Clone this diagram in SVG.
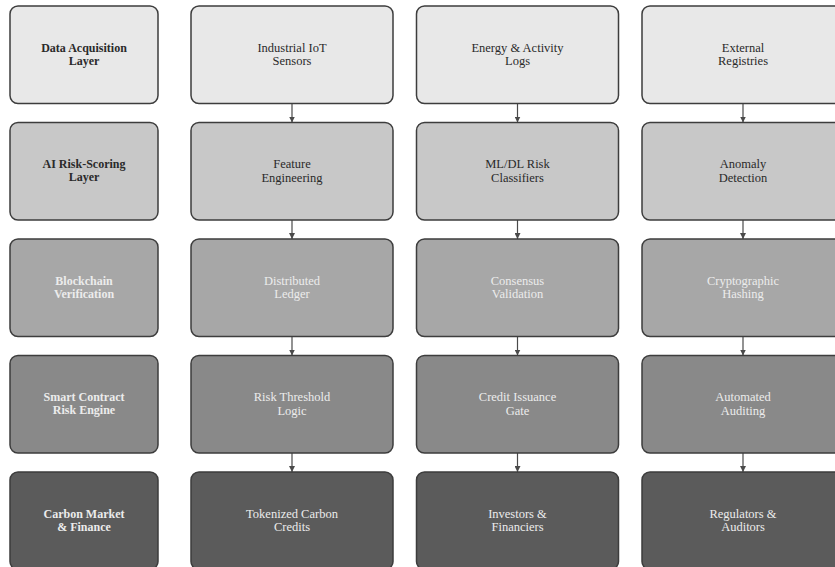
<svg xmlns="http://www.w3.org/2000/svg" width="835" height="567" viewBox="0 0 835 567">
<defs>
<style>
.box{stroke:#3d3d3d;stroke-width:1.5}
.r1{fill:#e8e8e8}.r2{fill:#c8c8c8}.r3{fill:#a7a7a7}.r4{fill:#898989}.r5{fill:#5b5b5b}
text{font-family:"Liberation Serif","Times New Roman",serif;font-size:12.5px;text-anchor:middle}
.dk{fill:#2a2a2a}.lt{fill:#ececec}
.b{font-weight:bold;font-size:12px}
.conn line{stroke:#4a4a4a;stroke-width:1.2}
</style>
<marker id="ah" viewBox="0 0 10 10" refX="10" refY="5" markerWidth="6" markerHeight="6" markerUnits="userSpaceOnUse" orient="auto">
<path d="M0,0 L10,5 L0,10 z" fill="#4a4a4a"/>
</marker>
</defs>
<rect width="835" height="567" fill="#ffffff"/>

<g id="conns" class="conn">
<line x1="292" y1="103.5" x2="292" y2="122.5" marker-end="url(#ah)"/>
<line x1="517.5" y1="103.5" x2="517.5" y2="122.5" marker-end="url(#ah)"/>
<line x1="743" y1="103.5" x2="743" y2="122.5" marker-end="url(#ah)"/>
<line x1="292" y1="220" x2="292" y2="239" marker-end="url(#ah)"/>
<line x1="517.5" y1="220" x2="517.5" y2="239" marker-end="url(#ah)"/>
<line x1="743" y1="220" x2="743" y2="239" marker-end="url(#ah)"/>
<line x1="292" y1="336.5" x2="292" y2="355.5" marker-end="url(#ah)"/>
<line x1="517.5" y1="336.5" x2="517.5" y2="355.5" marker-end="url(#ah)"/>
<line x1="743" y1="336.5" x2="743" y2="355.5" marker-end="url(#ah)"/>
<line x1="292" y1="453" x2="292" y2="472" marker-end="url(#ah)"/>
<line x1="517.5" y1="453" x2="517.5" y2="472" marker-end="url(#ah)"/>
<line x1="743" y1="453" x2="743" y2="472" marker-end="url(#ah)"/>
</g>

<!-- Row 1 -->
<g id="layer-data"><rect class="box r1" x="10" y="6" width="148" height="97.5" rx="8"/>
<text class="dk b" x="84" y="51.5">Data Acquisition</text><text class="dk b" x="84" y="64.5">Layer</text></g>
<g id="iot"><rect class="box r1" x="191" y="6" width="202" height="97.5" rx="8"/>
<text class="dk" x="292" y="51.5">Industrial IoT</text><text class="dk" x="292" y="65">Sensors</text></g>
<g id="energy"><rect class="box r1" x="416.5" y="6" width="202" height="97.5" rx="8"/>
<text class="dk" x="517.5" y="51.5">Energy &amp; Activity</text><text class="dk" x="517.5" y="65">Logs</text></g>
<g id="registries"><rect class="box r1" x="642" y="6" width="202" height="97.5" rx="8"/>
<text class="dk" x="743" y="51.5">External</text><text class="dk" x="743" y="65">Registries</text></g>

<!-- Row 2 -->
<g id="layer-ai"><rect class="box r2" x="10" y="122.5" width="148" height="97.5" rx="8"/>
<text class="dk b" x="84" y="168">AI Risk-Scoring</text><text class="dk b" x="84" y="181">Layer</text></g>
<g id="feature"><rect class="box r2" x="191" y="122.5" width="202" height="97.5" rx="8"/>
<text class="dk" x="292" y="168">Feature</text><text class="dk" x="292" y="181.5">Engineering</text></g>
<g id="classifiers"><rect class="box r2" x="416.5" y="122.5" width="202" height="97.5" rx="8"/>
<text class="dk" x="517.5" y="168">ML/DL Risk</text><text class="dk" x="517.5" y="181.5">Classifiers</text></g>
<g id="anomaly"><rect class="box r2" x="642" y="122.5" width="202" height="97.5" rx="8"/>
<text class="dk" x="743" y="168">Anomaly</text><text class="dk" x="743" y="181.5">Detection</text></g>

<!-- Row 3 -->
<g id="layer-bc"><rect class="box r3" x="10" y="239" width="148" height="97.5" rx="8"/>
<text class="lt b" x="84" y="284.5">Blockchain</text><text class="lt b" x="84" y="297.5">Verification</text></g>
<g id="ledger"><rect class="box r3" x="191" y="239" width="202" height="97.5" rx="8"/>
<text class="lt" x="292" y="284.5">Distributed</text><text class="lt" x="292" y="298">Ledger</text></g>
<g id="consensus"><rect class="box r3" x="416.5" y="239" width="202" height="97.5" rx="8"/>
<text class="lt" x="517.5" y="284.5">Consensus</text><text class="lt" x="517.5" y="298">Validation</text></g>
<g id="hashing"><rect class="box r3" x="642" y="239" width="202" height="97.5" rx="8"/>
<text class="lt" x="743" y="284.5">Cryptographic</text><text class="lt" x="743" y="298">Hashing</text></g>

<!-- Row 4 -->
<g id="layer-sc"><rect class="box r4" x="10" y="355.5" width="148" height="97.5" rx="8"/>
<text class="lt b" x="84" y="401">Smart Contract</text><text class="lt b" x="84" y="414">Risk Engine</text></g>
<g id="threshold"><rect class="box r4" x="191" y="355.5" width="202" height="97.5" rx="8"/>
<text class="lt" x="292" y="401">Risk Threshold</text><text class="lt" x="292" y="414.5">Logic</text></g>
<g id="issuance"><rect class="box r4" x="416.5" y="355.5" width="202" height="97.5" rx="8"/>
<text class="lt" x="517.5" y="401">Credit Issuance</text><text class="lt" x="517.5" y="414.5">Gate</text></g>
<g id="auditing"><rect class="box r4" x="642" y="355.5" width="202" height="97.5" rx="8"/>
<text class="lt" x="743" y="401">Automated</text><text class="lt" x="743" y="414.5">Auditing</text></g>

<!-- Row 5 -->
<g id="layer-cm"><rect class="box r5" x="10" y="472" width="148" height="97.5" rx="8"/>
<text class="lt b" x="84" y="517.5">Carbon Market</text><text class="lt b" x="84" y="530.5">&amp; Finance</text></g>
<g id="tokens"><rect class="box r5" x="191" y="472" width="202" height="97.5" rx="8"/>
<text class="lt" x="292" y="517.5">Tokenized Carbon</text><text class="lt" x="292" y="531">Credits</text></g>
<g id="investors"><rect class="box r5" x="416.5" y="472" width="202" height="97.5" rx="8"/>
<text class="lt" x="517.5" y="517.5">Investors &amp;</text><text class="lt" x="517.5" y="531">Financiers</text></g>
<g id="regulators"><rect class="box r5" x="642" y="472" width="202" height="97.5" rx="8"/>
<text class="lt" x="743" y="517.5">Regulators &amp;</text><text class="lt" x="743" y="531">Auditors</text></g>
</svg>
